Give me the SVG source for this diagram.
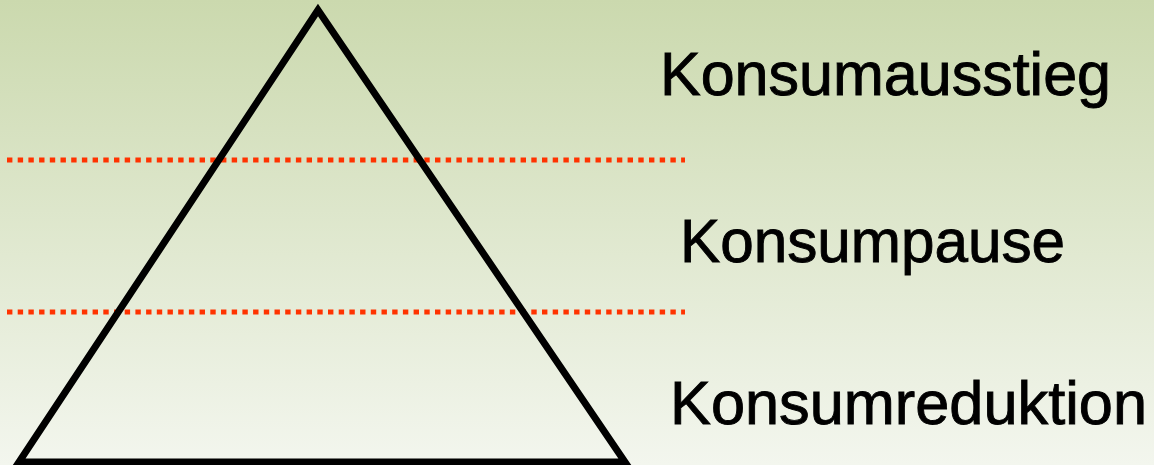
<svg xmlns="http://www.w3.org/2000/svg" width="1154" height="465" viewBox="0 0 1154 465">
<defs>
<linearGradient id="bg" x1="0" y1="0" x2="0" y2="1">
<stop offset="0" stop-color="#cbd9ae"/>
<stop offset="1" stop-color="#f3f6ee"/>
</linearGradient>
<style>
.lbl{font-family:"Liberation Sans",Arial,sans-serif;font-size:62px;fill:#000;stroke:#000;stroke-width:0.9}
.sep{stroke:#ff3300;stroke-width:5;stroke-dasharray:5.4 5.3;fill:none}
</style>
</defs>
<rect width="1154" height="465" fill="url(#bg)"/>
<g id="connectors">
<line class="sep" x1="7" y1="160" x2="685" y2="160"/>
<line class="sep" x1="7" y1="312" x2="685" y2="312"/>
</g>
<g id="pyramid">
<polygon points="318,10 19,462 625,462" fill="none" stroke="#000" stroke-width="7" stroke-linejoin="miter"/>
</g>
<g id="node-ausstieg"><text class="lbl" x="660" y="95" textLength="451" lengthAdjust="spacingAndGlyphs">Konsumausstieg</text></g>
<g id="node-pause"><text class="lbl" x="680" y="262" textLength="385" lengthAdjust="spacingAndGlyphs">Konsumpause</text></g>
<g id="node-reduktion"><text class="lbl" x="670" y="424" textLength="477" lengthAdjust="spacingAndGlyphs">Konsumreduktion</text></g>
</svg>
